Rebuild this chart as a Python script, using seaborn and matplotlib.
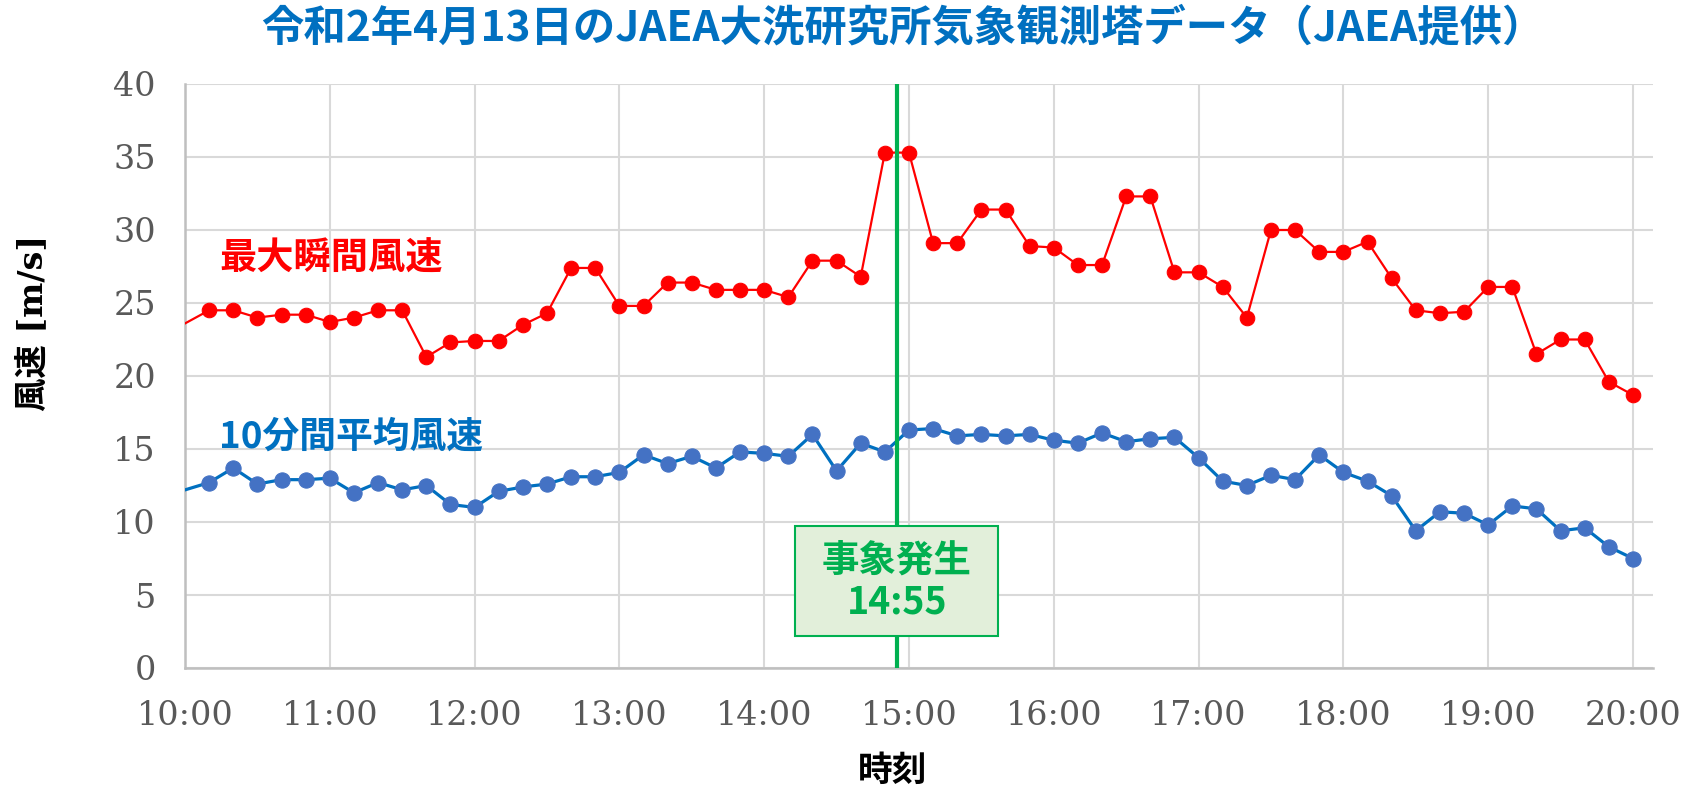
import numpy as np
import pandas as pd
import matplotlib
matplotlib.use("Agg")
import matplotlib.pyplot as plt
from matplotlib.patches import Rectangle
import seaborn as sns

# ---- data (10-minute steps, 09:50 .. 20:00) ----
start_time = "09:50"
end_time = "20:00"
gust = [22.7, 23.6, 24.5, 24.5, 24.0, 24.2, 24.2, 23.7, 24.0, 24.5, 24.5, 21.3, 22.3,
        22.4, 22.4, 23.5, 24.3, 27.4, 27.4, 24.8, 24.8, 26.4, 26.4, 25.9, 25.9, 25.9,
        25.4, 27.9, 27.9, 26.8, 35.3, 35.3, 29.1, 29.1, 31.4, 31.4, 28.9, 28.8, 27.6,
        27.6, 32.3, 32.3, 27.1, 27.1, 26.1, 24.0, 30.0, 30.0, 28.5, 28.5, 29.2, 26.7,
        24.5, 24.3, 24.4, 26.1, 26.1, 21.5, 22.5, 22.5, 19.6, 18.7]
mean10 = [11.7, 12.2, 12.7, 13.7, 12.6, 12.9, 12.9, 13.0, 12.0, 12.7, 12.2, 12.5, 11.2,
          11.0, 12.1, 12.4, 12.6, 13.1, 13.1, 13.4, 14.6, 14.0, 14.5, 13.7, 14.8, 14.7,
          14.5, 16.0, 13.5, 15.4, 14.8, 16.3, 16.4, 15.9, 16.0, 15.9, 16.0, 15.6, 15.4,
          16.1, 15.5, 15.7, 15.8, 14.4, 12.8, 12.5, 13.2, 12.9, 14.6, 13.4, 12.8, 11.8,
          9.4, 10.7, 10.6, 9.8, 11.1, 10.9, 9.4, 9.6, 8.3, 7.5]
hour_ticks = [10, 11, 12, 13, 14, 15, 16, 17, 18, 19, 20]
hour_labels = ["10:00", "11:00", "12:00", "13:00", "14:00", "15:00",
               "16:00", "17:00", "18:00", "19:00", "20:00"]
y_ticks = [0, 5, 10, 15, 20, 25, 30, 35, 40]
event_time = "14:55"
title = "令和2年4月13日のJAEA大洗研究所気象観測塔データ（JAEA提供）"
gust_label = "最大瞬間風速"
mean_label = "10分間平均風速"
event_text = "事象発生\n14:55"

times = pd.date_range("2020-04-13 " + start_time, "2020-04-13 " + end_time, freq="10min")
hours = times.hour + times.minute / 60.0
df = pd.DataFrame({"hour": hours, "gust": gust, "mean10": mean10})
ev_h, ev_m = map(int, event_time.split(":"))
event_hour = ev_h + ev_m / 60.0

# markers are shown only inside the plotted window (10:10 onwards)
mark_idx = list(range(2, len(df)))

# ---- style ----
sns.set_theme(style="white")
CJK = ["Noto Sans CJK JP", "DejaVu Sans"]
SERIF = ["DejaVu Serif", "Noto Sans CJK JP"]
plt.rcParams["font.family"] = CJK

W, H = 1691, 790
fig = plt.figure(figsize=(W / 100, H / 100), dpi=100)
ax = fig.add_axes([185 / W, 1 - 668 / H, (1653 - 185) / W, (668 - 84) / H])

grid_c = "#D9D9D9"
ax.set_xlim(10, 20 + 8.3 / 60)
ax.set_ylim(0, 40)
ax.set_xticks(hour_ticks)
ax.set_xticklabels(hour_labels)
ax.set_yticks(y_ticks)
ax.grid(True, color=grid_c, lw=1.5)
ax.set_axisbelow(True)
for s in ["top", "right"]:
    ax.spines[s].set_visible(False)
for s in ["left", "bottom"]:
    ax.spines[s].set_color("#BFBFBF")
    ax.spines[s].set_linewidth(1.8)
ax.tick_params(axis="both", length=0, labelsize=24, labelcolor="#595959")
ax.tick_params(axis="x", pad=23)
ax.tick_params(axis="y", pad=21)
for lab in ax.get_xticklabels() + ax.get_yticklabels():
    lab.set_family(SERIF)

sns.lineplot(data=df, x="hour", y="gust", ax=ax, color="#FF0000", lw=1.6,
             marker="o", markersize=10.5, markerfacecolor="#FF0000",
             markeredgecolor="#FF0000", markevery=mark_idx, zorder=3)
sns.lineplot(data=df, x="hour", y="mean10", ax=ax, color="#0070C0", lw=2.3,
             marker="o", markersize=11, markerfacecolor="#4472C4",
             markeredgecolor="#4472C4", markevery=mark_idx, zorder=3)
ax.set_xlabel("")
ax.set_ylabel("")

ax.axvline(event_hour, color="#00B050", lw=3, zorder=4)

# event box
box_w = (997 - 794) / 144.7
ax.add_patch(Rectangle((event_hour - box_w / 2, 2.19), box_w, 9.73 - 2.19,
                       facecolor="#E2EFDA", edgecolor="#00B050", lw=1.5, zorder=5))
ax.text(event_hour, 5.96, event_text, ha="center", va="center", fontsize=27,
        fontweight="bold", color="#00B050", linespacing=1.1, zorder=6,
        family=CJK)

ax.text(10.235, 28.0, gust_label, ha="left", va="center", fontsize=26.8,
        fontweight="bold", color="#FF0000", family=CJK)
ax.text(10.235, 15.8, mean_label, ha="left", va="center", fontsize=26.5,
        fontweight="bold", color="#0070C0", family=CJK)

fig.text(903 / W, 1 - 28 / H, title, ha="center", va="center", fontsize=30.5,
         fontweight="bold", color="#0070C0", family=CJK)
fig.text(893 / W, 1 - 770 / H, "時刻", ha="center", va="center", fontsize=25,
         fontweight="bold", color="black", family=CJK)
fig.text(33 / W, 1 - 323 / H, "風速 [m/s]", ha="center", va="center", fontsize=24,
         fontweight="bold", color="black", rotation=90, family=SERIF)

fig.savefig("out.png", dpi=100)
